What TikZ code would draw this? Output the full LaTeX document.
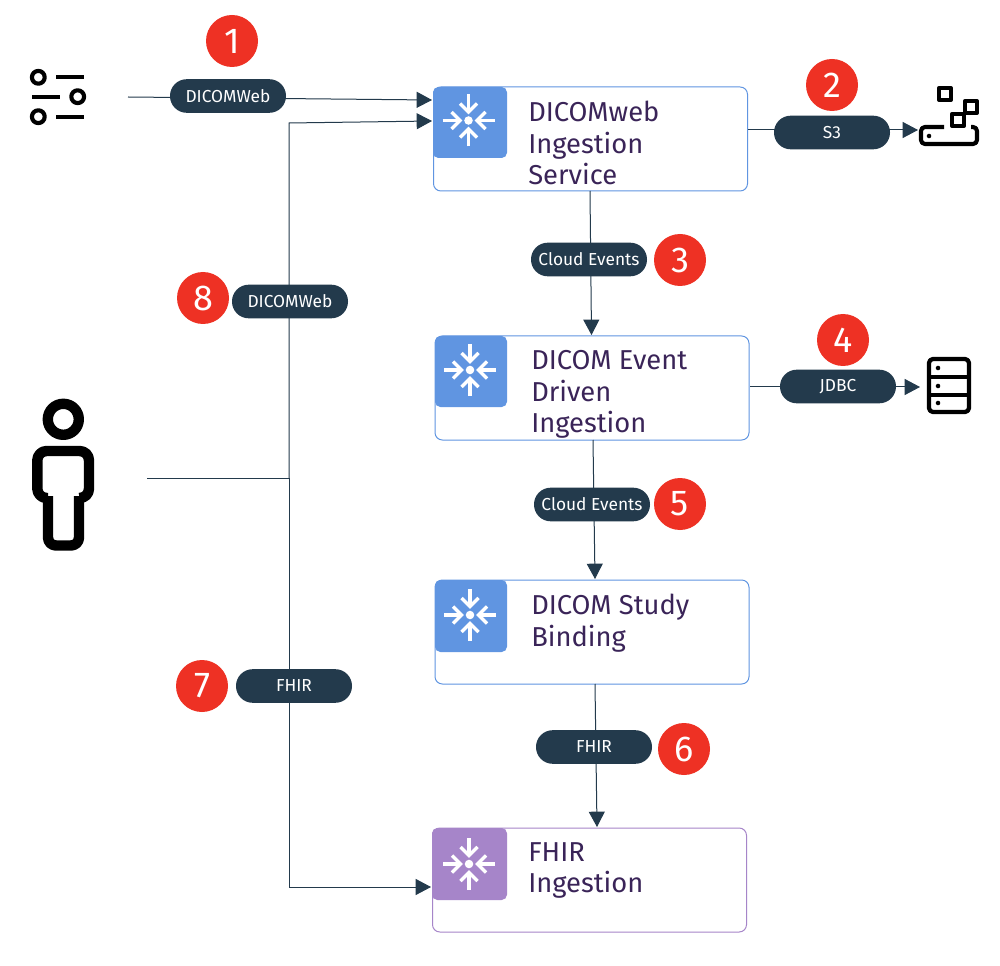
\documentclass[tikz,border=0pt]{standalone}
\usepackage{fontspec}
\setmainfont{Fira Sans}
\usetikzlibrary{arrows.meta}
\definecolor{ink}{HTML}{233A4C}
\definecolor{tilte}{HTML}{3A2458}
\definecolor{blu}{HTML}{6095E1}
\definecolor{pur}{HTML}{A685C9}
\definecolor{redc}{HTML}{EE3124}
\tikzset{
  x=0.75pt,y=-0.75pt,
  svc/.style={draw=#1,line width=0.75pt,rounded corners=5.5pt,fill=white,minimum width=235.5pt,minimum height=78pt,inner sep=0pt},
  title/.style={text=tilte,font=\fontsize{20.5}{23.7}\selectfont,align=left,anchor=north west,inner sep=0pt},
  pill/.style={fill=ink,text=white,rounded corners=12.5pt,minimum width=87pt,minimum height=25.2pt,inner sep=0pt,font=\fontsize{13}{14}\selectfont},
  num/.style={circle,fill=redc,text=white,minimum size=39pt,inner sep=0pt,font=\fontsize{27}{30}\selectfont},
  link/.style={draw=ink,line width=0.75pt},
  arrowlink/.style={link,-{Triangle[length=11.5pt,width=12pt]}},
  icon/.style={draw=black,line width=#1,line join=round},
  flake/.style={draw=white,line width=2.5pt}
}
\newcommand{\flakeicon}[2]{%
  \fill[white] (#1,#2) circle (3.2pt);
  \foreach \a in {0,90,180,270}{
    \begin{scope}[shift={(#1,#2)},rotate=\a]
      \draw[flake] (26,0) -- (9,0);
      \draw[flake] (17,-8.5) -- (8.5,0) -- (17,8.5);
    \end{scope}
  }%
}
\begin{document}
\begin{tikzpicture}
\useasboundingbox (0,0) rectangle (1000,966);
\fill[white] (0,0) rectangle (1000,966);

% service boxes
\node[svc=blu] (ing) at (590.5,139) {};
\node[svc=blu] (evt) at (592,388) {};
\node[svc=blu] (stu) at (592,632) {};
\node[svc=pur] (fhi) at (589.5,880) {};

% tiles
\fill[blu,rounded corners=4pt] (433,158) -- (433,87) -- (507,87) -- (507,158) -- cycle;
\fill[blu,rounded corners=4pt] (435,407) -- (435,336) -- (507,336) -- (507,407) -- cycle;
\fill[blu,rounded corners=4pt] (435,652) -- (435,580) -- (507,580) -- (507,652) -- cycle;
\fill[pur,rounded corners=4pt] (432,900) -- (432,828) -- (507,828) -- (507,900) -- cycle;
\flakeicon{468.5}{120.5}
\flakeicon{470}{370}
\flakeicon{470}{615}
\flakeicon{469}{864}

% titles
\node[title] (t1) at (528,101) {DICOMweb\\Ingestion\\Service};
\node[title] (t2) at (531,350) {DICOM Event\\Driven\\Ingestion};
\node[title] (t3) at (531,594) {DICOM Study\\Binding};
\node[title] (t4) at (528,842) {FHIR\\Ingestion};

% icons
\coordinate (sliders) at (128,97);
\draw[icon=3.1pt] (38.3,77.3) circle (6.4);
\draw[icon=3.1pt] (77.7,96.7) circle (6.4);
\draw[icon=3.1pt] (38.3,116.7) circle (6.4);
\draw[icon=3.2pt] (56,77.3) -- (84,77.3) (32,96.7) -- (60,96.7) (56,116.7) -- (84,116.7);

% bucket
\draw[icon=3.1pt] (939,88) rectangle (951,100);
\draw[icon=3.1pt] (965,101) rectangle (977,113);
\draw[icon=3.1pt] (952,114) rectangle (964,126);
\draw[icon=3.1pt,rounded corners=3pt] (944,127) -- (921,127) -- (921,144) -- (977,144) -- (977,127) -- (971,127);
\fill (929,136) circle (1.7pt);
\coordinate (bucket) at (918,130);

% server
\draw[icon=3.2pt,rounded corners=3pt] (929,359) rectangle (969,412);
\draw[icon=3.2pt] (929,377) -- (969,377) (929,395) -- (969,395);
\fill (938,368) circle (1.7pt) (938,386) circle (1.7pt) (938,403) circle (1.7pt);
\coordinate (server) at (920,387);

% person
\draw[icon=7.8pt] (63.3,419.3) circle (15.5);
\draw[icon=7.8pt,rounded corners=7pt] (48,498) -- (37.3,498) -- (37.3,451) -- (89,451) -- (89,498) -- (79,498);
\draw[icon=7.8pt,rounded corners=6pt] (48,496) -- (48,545.5) -- (79,545.5) -- (79,496);
\coordinate (person) at (147,478);

% connector end points
\coordinate (junction) at (289,478);
\coordinate (up) at (289,123);
\coordinate (down) at (289,887);
\coordinate (a1) at (432,100);
\coordinate (a8) at (432,121);
\coordinate (a7) at (431,887);
\coordinate (s1) at (748,130);
\coordinate (s2) at (750,387);
\coordinate (v1a) at (590,191);
\coordinate (v1b) at (591.5,335);
\coordinate (v2a) at (593,440);
\coordinate (v2b) at (595,579);
\coordinate (v3a) at (595,684);
\coordinate (v3b) at (597,827);

% connectors
\draw[arrowlink] (sliders) -- (a1);
\draw[link] (person) -- (junction);
\draw[arrowlink] (junction) -- (up) -- (a8);
\draw[arrowlink] (junction) -- (down) -- (a7);
\draw[arrowlink] (s1) -- (bucket);
\draw[arrowlink] (s2) -- (server);
\draw[arrowlink] (v1a) -- (v1b);
\draw[arrowlink] (v2a) -- (v2b);
\draw[arrowlink] (v3a) -- (v3b);

% pills
\node[pill] (p1) at (228,96) {DICOMWeb};
\node[pill] (p2) at (832,132.5) {S3};
\node[pill] (p3) at (589,259.5) {Cloud Events};
\node[pill] (p4) at (838,386.5) {JDBC};
\node[pill] (p5) at (592,504.5) {Cloud Events};
\node[pill] (p6) at (594,747) {FHIR};
\node[pill] (p7) at (294,686) {FHIR};
\node[pill] (p8) at (290,301.5) {DICOMWeb};

% numbers
\node[num] (n1) at (232,41) {1};
\node[num] (n2) at (832,85) {2};
\node[num] (n3) at (680,260) {3};
\node[num] (n4) at (843,340) {4};
\node[num] (n5) at (680,504) {5};
\node[num] (n6) at (684,749) {6};
\node[num] (n7) at (202,686) {7};
\node[num] (n8) at (203,298) {8};
\end{tikzpicture}
\end{document}
